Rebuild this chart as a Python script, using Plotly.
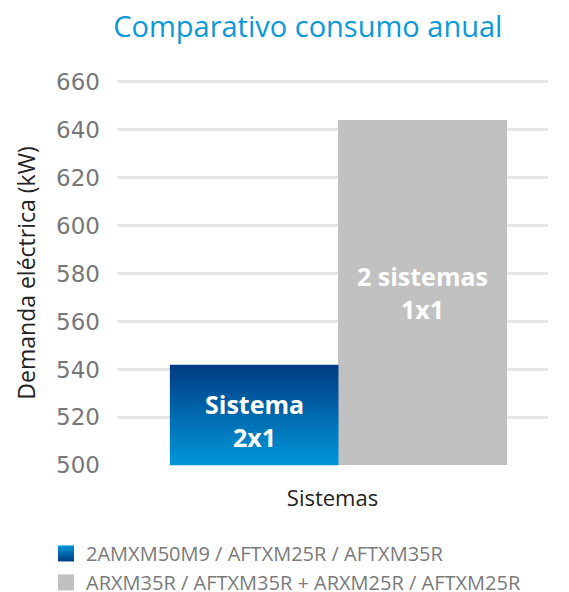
import plotly.graph_objects as go

# Data
systems = ["2AMXM50M9 / AFTXM25R / AFTXM35R",
           "ARXM35R / AFTXM35R + ARXM25R / AFTXM25R"]
bar_labels = ["Sistema<br>2x1", "2 sistemas<br>1x1"]
values = [542, 644]
y_ticks = [500, 520, 540, 560, 580, 600, 620, 640, 660]

Y_MIN, Y_MAX = 500, 660
FONT = "Open Sans"
positions = [0, 1]
bar_colors = ["#0064ac", "#c1c1c1"]
label_yshift = [-6, 0]
grad_light, grad_dark = "#0097da", "#003b82"

fig = go.Figure()

for i, (name, v) in enumerate(zip(systems, values)):
    fig.add_trace(go.Bar(
        x=[positions[i]], y=[v - Y_MIN], base=Y_MIN, width=1, name=name,
        marker=dict(color=bar_colors[i], line=dict(width=0)),
        showlegend=False, hoverinfo="name",
    ))

# gradient overlay for first bar (derived from data)
p, v = positions[0], values[0]
fig.add_trace(go.Scatter(
    x=[p - 0.5, p + 0.5, p + 0.5, p - 0.5, p - 0.5],
    y=[Y_MIN, Y_MIN, v, v, Y_MIN],
    mode="lines", line=dict(width=0), fill="toself",
    fillgradient=dict(type="vertical", start=Y_MIN, stop=v,
                      colorscale=[[0, grad_light], [1, grad_dark]]),
    showlegend=False, hoverinfo="skip",
))

# bar labels centred in visible part of each bar
for pos, val, lab, ys in zip(positions, values, bar_labels, label_yshift):
    fig.add_annotation(x=pos, y=(Y_MIN + val) / 2, text=f"<b>{lab}</b>",
                       showarrow=False, yshift=ys,
                       font=dict(family=FONT, size=25, color="white"))

# legend entries (square swatches)
legend_markers = [dict(symbol="square", size=16, color=grad_light,
                       gradient=dict(type="vertical", color=grad_dark),
                       line=dict(width=0)),
                  dict(symbol="square", size=16, color=bar_colors[1],
                       line=dict(width=0))]
for name, mk in zip(systems, legend_markers):
    fig.add_trace(go.Scatter(x=[None], y=[None], mode="markers", name=name,
                             marker=mk, hoverinfo="skip"))

fig.update_layout(
    width=569, height=592,
    margin=dict(l=117, r=21, t=80, b=126, autoexpand=False),
    paper_bgcolor="white", plot_bgcolor="white",
    font=dict(family=FONT, color="#777777"),
    title=dict(text="Comparativo consumo anual", x=0.541, xanchor="center",
               xref="container", y=0.955, yanchor="middle",
               font=dict(family=FONT, size=29, color="#0a98d9")),
    showlegend=True,
    legend=dict(orientation="v", x=-0.1647, xanchor="left", y=-0.176, yanchor="top",
                font=dict(family=FONT, size=20, color="#7a7a7a"),
                itemsizing="trace", maxheight=300),
    bargap=0,
)
fig.update_xaxes(range=[-0.8136, 1.7426], showticklabels=False, showgrid=False,
                 zeroline=False, showline=False, automargin=False,
                 title=dict(text="Sistemas", standoff=24,
                            font=dict(family=FONT, size=22, color="#222222")))
fig.update_yaxes(range=[Y_MIN - 0.3, Y_MAX + 0.8], tickvals=y_ticks, showgrid=True,
                 gridcolor="#e6e6e6", gridwidth=3, zeroline=False, showline=False,
                 automargin=False, ticklabelstandoff=16,
                 tickfont=dict(family="DejaVu Sans", size=23, color="#777777"),
                 title=dict(text="Demanda eléctrica (kW)", standoff=14,
                            font=dict(family=FONT, size=23, color="#222222")))

fig.write_html("out.html", config={"displayModeBar": False},
               post_script="document.body.style.margin='0px';")
